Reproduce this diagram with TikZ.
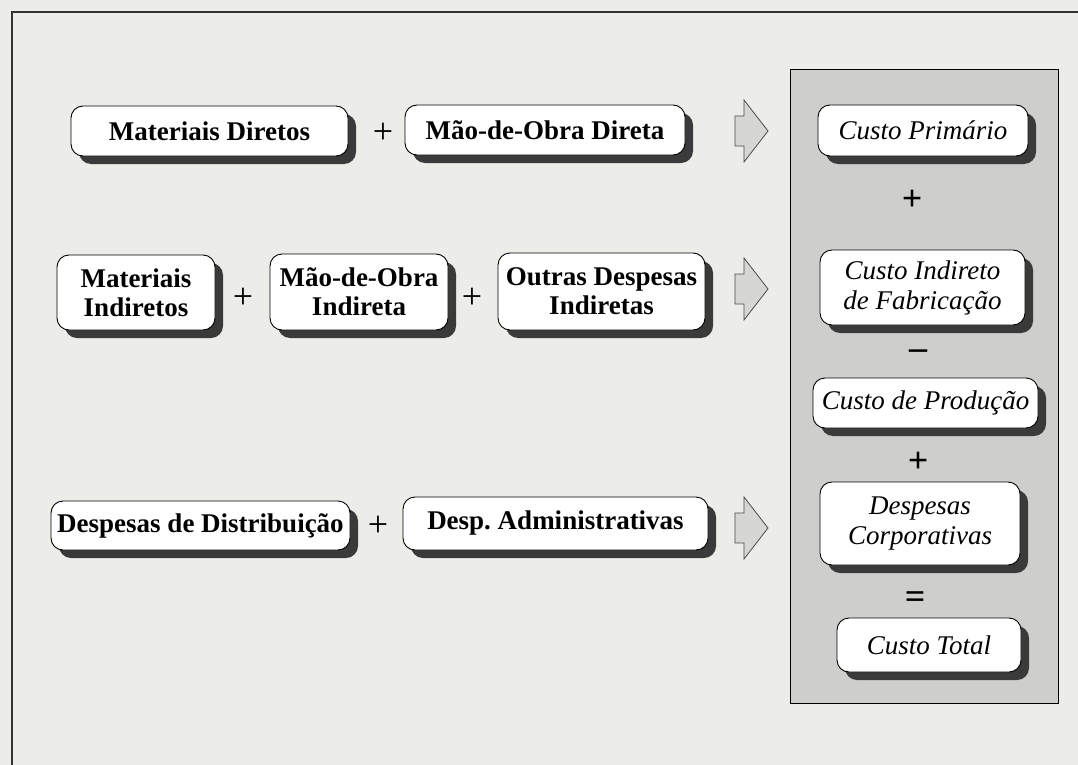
\documentclass[tikz,border=0pt]{standalone}
\usepackage{fontspec}
\setmainfont{Liberation Serif}
\usetikzlibrary{shadows}
\definecolor{paper}{RGB}{236,236,233}
\definecolor{panel}{RGB}{206,207,204}
\definecolor{shade}{RGB}{58,58,58}
\definecolor{arrowfill}{RGB}{214,214,211}
\begin{document}
\begin{tikzpicture}[x=1pt,y=-1pt,
  costbox/.style={draw=black, line width=0.9pt, fill=white, rounded corners=12pt,
    align=center, inner sep=0pt,
    drop shadow={shadow xshift=8pt, shadow yshift=-8pt, opacity=1, fill=shade}},
  itembox/.style={costbox, font=\fontsize{27}{29}\selectfont\bfseries},
  totalbox/.style={costbox, font=\fontsize{27}{30}\selectfont\itshape},
  opsign/.style={font=\fontsize{36}{36}\selectfont, inner sep=0pt},
  panelsign/.style={font=\fontsize{36}{36}\selectfont\bfseries, inner sep=0pt},
  blockarrow/.style={draw=black!70, line width=0.8pt, fill=arrowfill, line join=miter}
]
\useasboundingbox (0,0) rectangle (1078,765);
% page background and frame
\fill[paper] (0,0) rectangle (1078,765);
\draw[line width=1.2pt, black!80] (12,765) -- (12,12) -- (1078,12);
% summary panel
\draw[line width=1pt, fill=panel] (790,70) rectangle (1058,703);

% row 1: prime cost
\node[itembox, minimum width=277pt, minimum height=50pt] (md)  at (209.5,131) {Materiais Diretos};
\node[opsign] (p1) at (383,133) {+};
\node[itembox, minimum width=280pt, minimum height=50pt] (mod) at (545,130) {Mão-de-Obra Direta};

% row 2: indirect manufacturing cost
\node[itembox, minimum width=158pt, minimum height=75pt] (mi)  at (136,292.5) {Materiais\\Indiretos};
\node[opsign] (p2) at (243,298) {+};
\node[itembox, minimum width=178pt, minimum height=76pt] (moi) at (359,292) {Mão-de-Obra\\Indireta};
\node[opsign] (p3) at (472,298) {+};
\node[itembox, minimum width=207pt, minimum height=77pt] (odi) at (601.5,291.5) {Outras Despesas\\Indiretas};

% row 3: corporate expenses
\node[itembox, minimum width=299pt, minimum height=49pt] (dd) at (200.5,525.5) {Despesas de Distribuição};
\node[opsign] (p4) at (378,526) {+};
\node[itembox, minimum width=305pt, minimum height=53pt] (da) at (555.5,523.5) {Desp.\ Administrativas};

% block arrows
\foreach \name/\yy in {a1/131, a2/289, a3/528}{
  \coordinate (\name) at (735,\yy);
  \draw[blockarrow] (\name) ++(0,-15) -- ++(9,0) -- ++(0,-16) -- ++(24,31)
    -- ++(-24,31) -- ++(0,-16) -- ++(-9,0) -- cycle;
}

% cost build-up inside the panel
\node[totalbox, minimum width=210pt, minimum height=51pt] (cp)    at (923,130.5) {Custo Primário};
\node[panelsign] (s1) at (912,200) {+};
\node[totalbox, minimum width=205pt, minimum height=75pt] (cif)   at (922.5,287.5) {Custo Indireto\\de Fabricação};
\node[panelsign] (s2) at (918,355) {–};
\node[totalbox, minimum width=225pt, minimum height=50pt] (cprod) at (925.5,403) {Custo de Produção};
\node[panelsign] (s3) at (918,462) {+};
\node[totalbox, minimum width=200pt, minimum height=83pt] (dc)    at (920,523.5) {Despesas\\Corporativas};
\node[panelsign] (s4) at (915,600) {=};
\node[totalbox, minimum width=184pt, minimum height=54pt] (ct)    at (929,645) {Custo Total};
\end{tikzpicture}
\end{document}
